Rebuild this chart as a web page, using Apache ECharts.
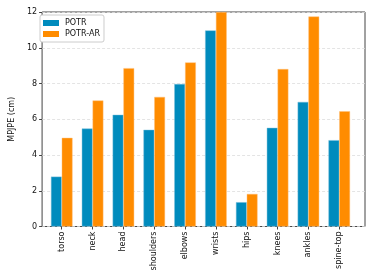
<!DOCTYPE html>
<html>
<head>
<meta charset="utf-8">
<script src="https://cdn.jsdelivr.net/npm/echarts@6/dist/echarts.min.js"></script>
<style>html,body{margin:0;padding:0;background:#fff}#c{width:374px;height:280px}</style>
</head>
<body>
<div id="c"></div>
<script>
const categories = ['torso','neck','head','shoulders','elbows','wrists','hips','knees','ankles','spine-top'];
const potr = [2.79, 5.48, 6.25, 5.41, 7.97, 10.97, 1.36, 5.52, 6.97, 4.83];
const potrAR = [4.96, 7.05, 8.86, 7.25, 9.18, 12.0, 1.82, 8.81, 11.75, 6.45];
const yTicks = [0, 2, 4, 6, 8, 10, 12];

const font = 'DejaVu Sans';
const chart = echarts.init(document.getElementById('c'), null, {renderer: 'canvas'});
// frame grid spans the full plot area; bar grid spans the category bands (matplotlib margins)
const frameL = 36, frameR = 9, gridTop = 12, gridBottom = 53.5;
const pxPerUnit = (374 - frameL - frameR) / 10.67;
const inset = 0.335 * pxPerUnit;
chart.setOption({
  animation: false,
  backgroundColor: '#fff',
  grid: [
    {left: frameL + inset, right: frameR + inset, top: gridTop, bottom: gridBottom, show: false},
    {left: frameL, right: frameR, top: gridTop, bottom: gridBottom, show: true, borderColor: '#444', borderWidth: 1, backgroundColor: 'transparent'}
  ],
  legend: {
    left: 40, top: 15, orient: 'vertical',
    data: ['POTR', 'POTR-AR'],
    itemWidth: 16, itemHeight: 6, itemGap: 3,
    icon: 'rect',
    itemStyle: {borderWidth: 0},
    backgroundColor: '#fff', borderColor: '#ccc', borderWidth: 1, borderRadius: 2,
    padding: [4, 4, 4, 3],
    textStyle: {fontFamily: font, fontSize: 8, color: '#111', padding: [0, 0, 0, 1]}
  },
  xAxis: [
    {
      type: 'category', gridIndex: 0, data: categories,
      axisLine: {show: false},
      splitLine: {show: false},
      axisTick: {show: true, alignWithLabel: true, length: 3, lineStyle: {color: '#444'}},
      axisLabel: {rotate: 90, margin: 5, interval: 0, fontFamily: font, fontSize: 8, color: '#111'}
    },
    {type: 'value', gridIndex: 1, min: 0, max: 1, show: false}
  ],
  yAxis: [
    {type: 'value', gridIndex: 0, min: 0, max: 12, interval: 2, show: false},
    {
      type: 'value', gridIndex: 1, min: 0, max: 12, interval: 2,
      name: 'MPJPE (cm)', nameLocation: 'middle', nameGap: 21,
      nameTextStyle: {fontFamily: font, fontSize: 8, color: '#111'},
      axisLine: {show: false},
      axisTick: {show: true, length: 3, lineStyle: {color: '#444'}},
      axisLabel: {fontFamily: font, fontSize: 8, color: '#111', margin: 5,
        formatter: v => yTicks.includes(v) ? String(v) : ''},
      splitLine: {show: true, lineStyle: {color: '#ddd', type: [3, 2], width: 0.8}}
    }
  ],
  series: [
    {name: 'POTR', type: 'bar', xAxisIndex: 0, yAxisIndex: 0, data: potr, barWidth: 0.35 * pxPerUnit, barGap: '0%',
     itemStyle: {color: '#008bbd', borderColor: 'rgba(120,190,220,0.9)', borderWidth: 0.5}},
    {name: 'POTR-AR', type: 'bar', xAxisIndex: 0, yAxisIndex: 0, data: potrAR, barWidth: 0.35 * pxPerUnit, barGap: '0%',
     itemStyle: {color: '#ff8c00', borderColor: 'rgba(255,190,120,0.9)', borderWidth: 0.5}}
  ]
});
</script>
</body>
</html>
